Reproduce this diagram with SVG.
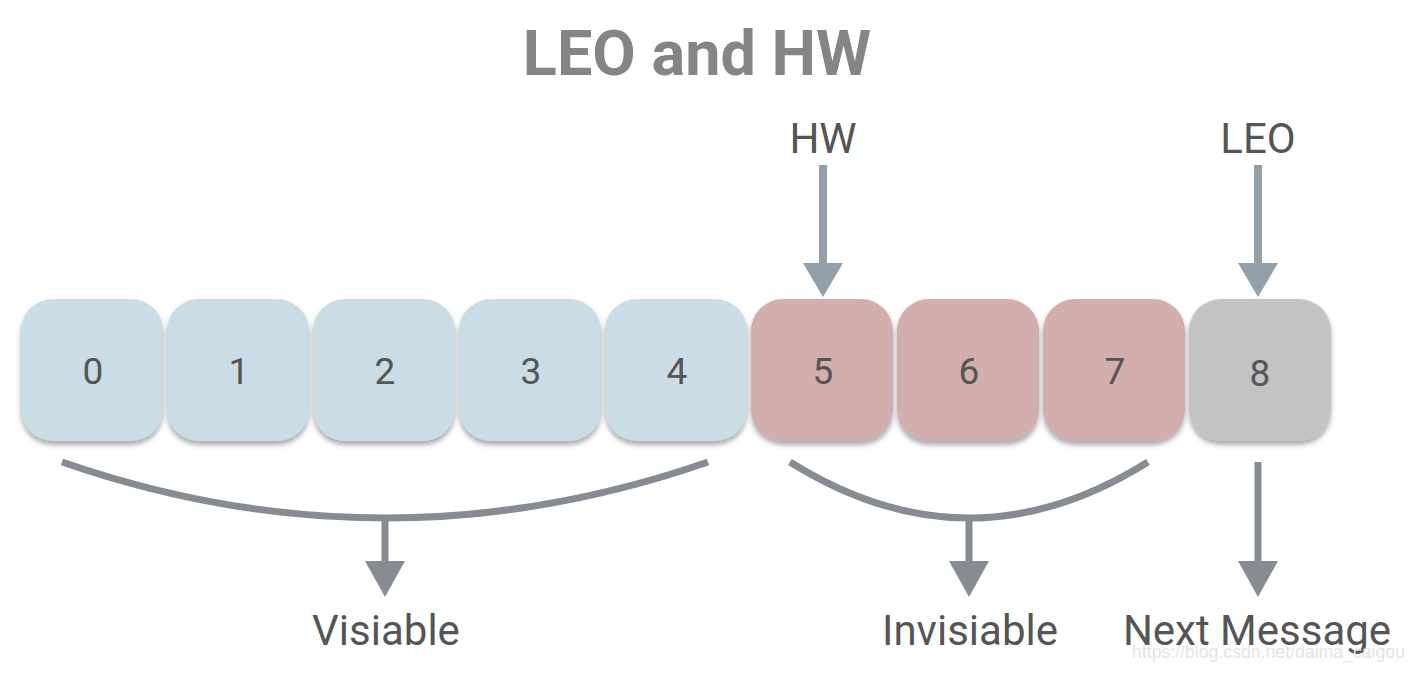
<svg xmlns="http://www.w3.org/2000/svg" width="1426" height="678" viewBox="0 0 1426 678">
<defs>
<filter id="sh" x="-10%" y="-10%" width="120%" height="130%">
<feDropShadow dx="0" dy="4" stdDeviation="2.5" flood-color="#444" flood-opacity="0.45"/>
</filter>
<style>
.box{filter:url(#sh);}
.vis{fill:#cadce5;}
.inv{fill:#d2aeae;}
.nxt{fill:#c2c3c2;}
.num{font-family:Roboto,"Liberation Sans",sans-serif;font-size:37px;fill:#555;text-anchor:middle;}
.lbl{font-family:Roboto,"Liberation Sans",sans-serif;font-size:42px;fill:#555;text-anchor:middle;}
.top{stroke:#93a0aa;stroke-width:8;fill:none;}
.topH{fill:#93a0aa;}
.bot{stroke:#878c93;stroke-width:7;fill:none;}
.botH{fill:#878c93;}
</style>
</defs>
<rect width="1426" height="678" fill="#fff"/>
<text x="697" y="75" font-family="Roboto,'Liberation Sans',sans-serif" font-weight="bold" font-size="63" fill="#858585" text-anchor="middle">LEO and HW</text>

<g id="node0"><rect class="box vis" x="21" y="299" width="142" height="142" rx="32"/><text class="num" x="93" y="384">0</text></g>
<g id="node1"><rect class="box vis" x="167" y="299" width="142" height="142" rx="32"/><text class="num" x="239" y="384">1</text></g>
<g id="node2"><rect class="box vis" x="313" y="299" width="142" height="142" rx="32"/><text class="num" x="385" y="384">2</text></g>
<g id="node3"><rect class="box vis" x="459" y="299" width="142" height="142" rx="32"/><text class="num" x="531" y="384">3</text></g>
<g id="node4"><rect class="box vis" x="605" y="299" width="142" height="142" rx="32"/><text class="num" x="677" y="384">4</text></g>
<g id="node5"><rect class="box inv" x="751" y="299" width="142" height="142" rx="32"/><text class="num" x="823" y="384">5</text></g>
<g id="node6"><rect class="box inv" x="897" y="299" width="142" height="142" rx="32"/><text class="num" x="969" y="384">6</text></g>
<g id="node7"><rect class="box inv" x="1043" y="299" width="142" height="142" rx="32"/><text class="num" x="1115" y="384">7</text></g>
<g id="node8"><rect class="box nxt" x="1189" y="299" width="142" height="142" rx="32"/><text class="num" x="1260" y="386">8</text></g>

<g id="label-hw"><text class="lbl" x="823" y="153">HW</text></g>
<g id="label-leo"><text class="lbl" x="1258" y="153">LEO</text></g>
<g id="label-visiable"><text class="lbl" x="386" y="645">Visiable</text></g>
<g id="label-invisiable"><text class="lbl" x="970" y="645">Invisiable</text></g>
<g id="label-next"><text class="lbl" x="1257" y="645">Next Message</text></g>

<g id="connectors">
<line class="top" x1="823" y1="165" x2="823" y2="266"/>
<polygon class="topH" points="803,263 843,263 823,297"/>
<line class="top" x1="1258" y1="165" x2="1258" y2="266"/>
<polygon class="topH" points="1238,263 1278,263 1258,297"/>
<path class="bot" d="M62,462 Q385,574 708,462"/>
<line class="bot" x1="385" y1="516" x2="385" y2="564"/>
<polygon class="botH" points="365,561 405,561 385,597"/>
<path class="bot" d="M790,462 Q969,574 1148,462"/>
<line class="bot" x1="969" y1="516" x2="969" y2="564"/>
<polygon class="botH" points="949,561 989,561 969,597"/>
<line class="bot" x1="1258" y1="462" x2="1258" y2="564"/>
<polygon class="botH" points="1238,561 1278,561 1258,597"/>
</g>
<text x="1132" y="658" font-family="'Liberation Sans',Arial,sans-serif" font-size="19" fill="#e4e4e4" textLength="273" lengthAdjust="spacingAndGlyphs">https://blog.csdn.net/daima_caigou</text>
</svg>
